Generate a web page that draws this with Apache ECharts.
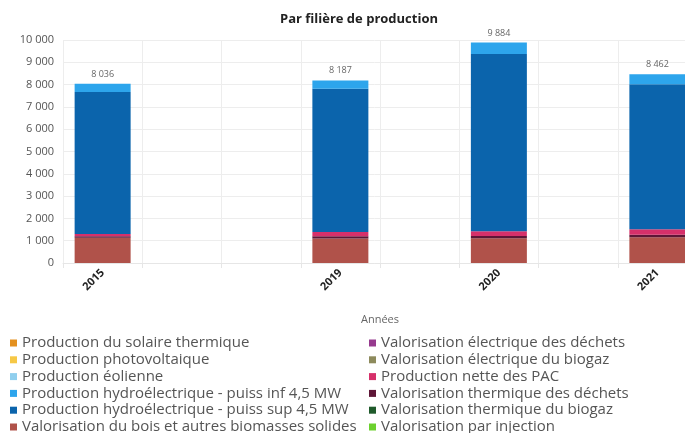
<!DOCTYPE html>
<html>
<head>
<meta charset="utf-8">
<script src="https://cdn.jsdelivr.net/npm/echarts@6/dist/echarts.min.js"></script>
<style>
  html, body { margin: 0; padding: 0; background: #fff; }
  #chart { width: 685px; height: 433px; }
</style>
</head>
<body>
<div id="chart"></div>
<script>
// années (les cases vides sont des années sans données)
const annees = ['2015', '', '', '2019', '', '2020', '', '2021']

// valeurs (GWh), du bas vers le haut de la pile
const bois = [1130, null, null, 1100, null, 1110, null, 1150]
const thermDechets = [70, null, null, 100, null, 100, null, 120]
const pac = [100, null, null, 190, null, 210, null, 240]
const hydroSup = [6366, null, null, 6427, null, 7954, null, 6502]
const hydroInf = [370, null, null, 370, null, 510, null, 450]
const totaux = [8036, null, null, 8187, null, 9884, null, 8462]

// filières non visibles sur le graphique
const solaireTh = [0, null, null, 0, null, 0, null, 0]
const photovolt = [0, null, null, 0, null, 0, null, 0]
const eolien = [0, null, null, 0, null, 0, null, 0]
const elecDechets = [0, null, null, 0, null, 0, null, 0]
const elecBiogaz = [0, null, null, 0, null, 0, null, 0]
const thermBiogaz = [0, null, null, 0, null, 0, null, 0]
const injection = [0, null, null, 0, null, 0, null, 0]

const legende1 = [
  'Production du solaire thermique',
  'Production photovoltaique',
  'Production éolienne',
  'Production hydroélectrique - puiss inf 4,5 MW',
  'Production hydroélectrique - puiss sup 4,5 MW',
  'Valorisation du bois et autres biomasses solides',
]
const legende2 = [
  'Valorisation électrique des déchets',
  'Valorisation électrique du biogaz',
  'Production nette des PAC',
  'Valorisation thermique des déchets',
  'Valorisation thermique du biogaz',
  'Valorisation par injection',
]

const fmt = v => String(v).replace(/\B(?=(\d{3})+(?!\d))/g, ' ')
const FONT = '"Open Sans", sans-serif'

const filieres = [
  { name: legende1[5], data: bois, color: '#b0524a' },
  { name: legende2[3], data: thermDechets, color: '#5e1637' },
  { name: legende2[2], data: pac, color: '#d6306a' },
  { name: legende1[4], data: hydroSup, color: '#0b64ac' },
  { name: legende1[3], data: hydroInf, color: '#2da5ec', total: true },
  { name: legende1[2], data: eolien, color: '#90cfee' },
  { name: legende1[1], data: photovolt, color: '#f6c846' },
  { name: legende1[0], data: solaireTh, color: '#e4911f' },
  { name: legende2[0], data: elecDechets, color: '#963a8e' },
  { name: legende2[1], data: elecBiogaz, color: '#8d8a5c' },
  { name: legende2[4], data: thermBiogaz, color: '#1f5a2b' },
  { name: legende2[5], data: injection, color: '#6cd12e' },
]

const series = filieres.map(f => ({
  name: f.name,
  type: 'bar',
  stack: 'total',
  barWidth: 56,
  data: f.data,
  itemStyle: { color: f.color },
  label: f.total ? {
    show: true,
    position: 'top',
    distance: 5,
    color: '#666',
    fontSize: 9,
    fontFamily: FONT,
    formatter: p => (totaux[p.dataIndex] == null ? '' : fmt(totaux[p.dataIndex])),
  } : { show: false },
}))

const legendStyle = {
  orient: 'vertical',
  top: 335.5,
  height: 120,
  padding: 0,
  itemWidth: 7,
  itemHeight: 7,
  itemGap: 1.8,
  icon: 'rect',
  textStyle: { color: '#555', fontSize: 15, fontFamily: FONT, lineHeight: 15 },
}

const chart = echarts.init(document.getElementById('chart'))
chart.setOption({
  animation: false,
  title: {
    text: 'Par filière de production',
    left: 275,
    top: 8,
    textStyle: { fontSize: 13, fontWeight: 'bold', color: '#222', fontFamily: FONT },
  },
  legend: [
    Object.assign({ left: 10, data: legende1 }, legendStyle),
    Object.assign({ left: 369, data: legende2 }, legendStyle),
  ],
  grid: { left: 63, top: 40, right: -12, height: 223, outerBoundsMode: 'none' },
  xAxis: {
    type: 'category',
    data: annees,
    name: 'Années',
    nameLocation: 'middle',
    nameGap: 51,
    nameTextStyle: { color: '#666', fontSize: 11, fontFamily: FONT },
    axisLabel: { rotate: 45, interval: 0, fontWeight: 'bold', fontSize: 11, color: '#222', fontFamily: FONT, margin: 8 },
    axisLine: { lineStyle: { color: '#e6e6e6' } },
    axisTick: { show: true, length: 5, lineStyle: { color: '#e6e6e6' } },
    splitLine: { show: true, lineStyle: { color: '#ededed' } },
  },
  yAxis: {
    type: 'value',
    min: 0,
    max: 10000,
    interval: 1000,
    axisLabel: { color: '#555', fontSize: 11, fontFamily: FONT, margin: 9, formatter: fmt },
    axisLine: { show: false },
    splitLine: { lineStyle: { color: '#ededed' } },
  },
  series,
})
</script>
</body>
</html>
